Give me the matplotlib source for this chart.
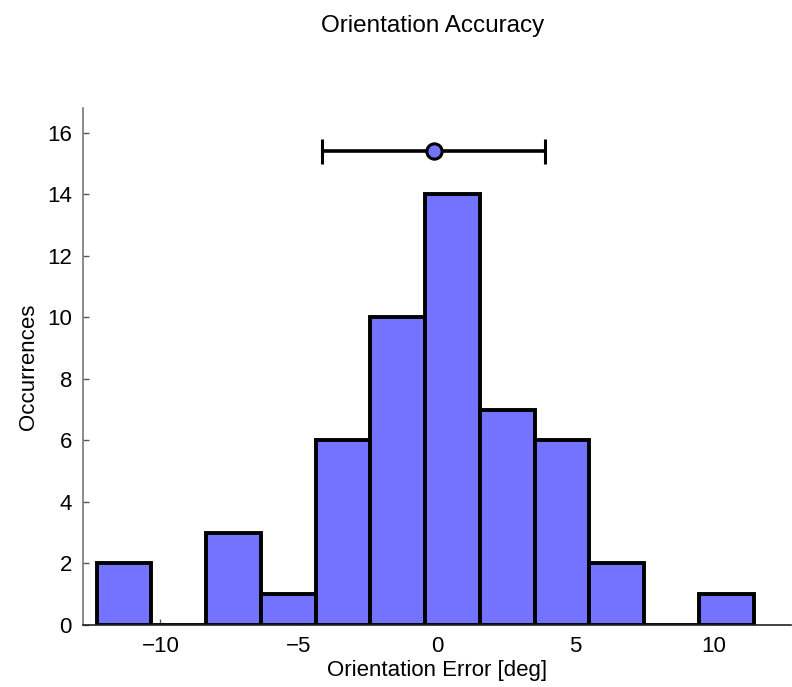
import numpy as np
import matplotlib
matplotlib.use("Agg")
import matplotlib.pyplot as plt

plt.rcParams['font.family'] = ['Liberation Sans', 'DejaVu Sans']

# histogram of orientation error
bin_edges = [-12.31, -10.33, -8.35, -6.37, -4.39, -2.41, -0.43,
             1.55, 3.53, 5.51, 7.49, 9.47, 11.45]
counts = [2, 0, 3, 1, 6, 10, 14, 7, 6, 2, 0, 1]

# mean +/- std marker
err_mean = -0.12
err_std = 4.03
err_y = 15.4

bar_color = '#7373ff'

fig = plt.figure(figsize=(7.92, 6.87), dpi=100)
ax = fig.add_axes([0.1048, 0.0902, 0.894, 0.7525])

edges = np.array(bin_edges)
widths = np.diff(edges)
ax.bar(edges[:-1], counts, width=widths, align='edge', color=bar_color,
       edgecolor='black', linewidth=2.8, zorder=2)

ax.errorbar([err_mean], [err_y], xerr=[err_std], fmt='o', color='black',
            ecolor='black', elinewidth=2.6, capsize=9, capthick=2.6,
            markersize=11, markerfacecolor=bar_color, markeredgecolor='black',
            markeredgewidth=2.2, zorder=3)

ax.set_xlim(-12.8, 12.8)
ax.set_ylim(0, 16.8)
ax.set_xticks([-10, -5, 0, 5, 10])
ax.set_yticks(range(0, 17, 2))
ax.set_xticklabels(['\u221210', '\u22125', '0', '5', '10'])

for s in ['top', 'right']:
    ax.spines[s].set_visible(False)
ax.spines['left'].set_color('#777777')
ax.spines['bottom'].set_color('#222222')
ax.spines['left'].set_linewidth(1.2)
ax.spines['bottom'].set_linewidth(1.2)
ax.tick_params(direction='in', length=4, width=1, color='#555555',
               labelsize=16, pad=8)

ax.set_xlabel('Orientation Error [deg]', fontsize=16, labelpad=2)
ax.set_ylabel('Occurrences', fontsize=16, labelpad=6)
fig.text(0.546, 0.962, 'Orientation Accuracy', fontsize=17.5, ha='center', va='center')

fig.savefig('out.png', dpi=100)
